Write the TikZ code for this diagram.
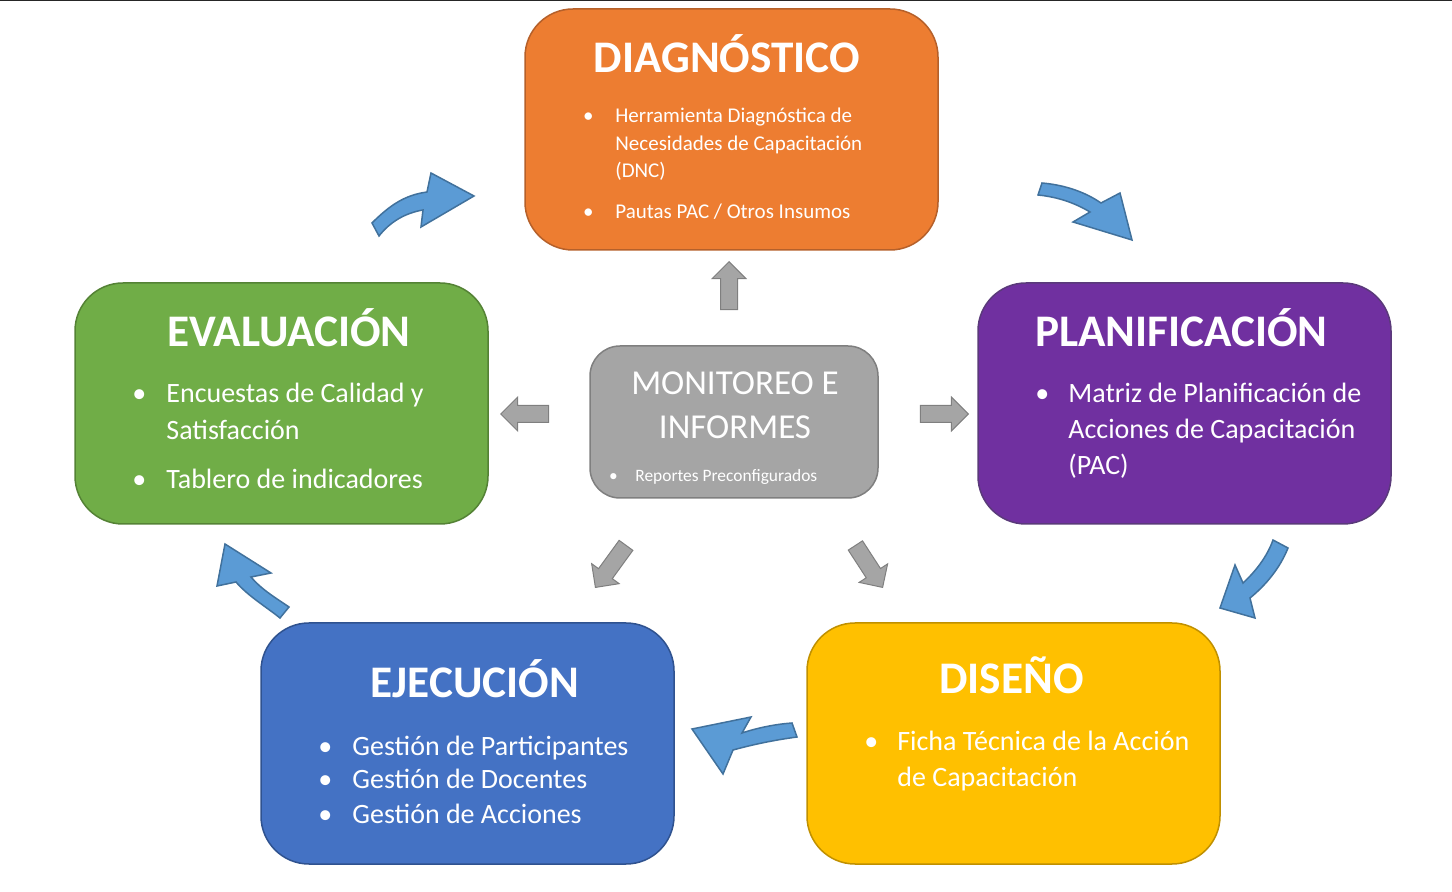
\documentclass[tikz,border=0pt]{standalone}
\usepackage{fontspec}
\setmainfont{Carlito}
\usepackage{tikz}
\usepackage{xcolor}
\usetikzlibrary{shapes.arrows}
\definecolor{diagorange}{HTML}{ED7D31}
\definecolor{diagline}{HTML}{B5602A}
\definecolor{planpurple}{HTML}{7030A0}
\definecolor{planline}{HTML}{5A3A7A}
\definecolor{evalgreen}{HTML}{70AD47}
\definecolor{evalline}{HTML}{548235}
\definecolor{ejecblue}{HTML}{4472C4}
\definecolor{ejecline}{HTML}{2F528F}
\definecolor{disyellow}{HTML}{FFC000}
\definecolor{disline}{HTML}{C09000}
\definecolor{monigray}{HTML}{A5A5A5}
\definecolor{grayline}{HTML}{7F7F7F}
\definecolor{arrowblue}{HTML}{5B9BD5}
\definecolor{blueline}{HTML}{41719C}
\newcommand{\bul}[1][27pt]{\makebox[#1]{\textbullet}\ignorespaces}
\newcommand{\nobul}[1][27pt]{\hspace*{#1}\ignorespaces}
\tikzstyle{phase} = [rectangle, rounded corners=24pt, minimum width=206.5pt, minimum height=120.5pt, line width=0.75pt, inner sep=0pt]
\tikzstyle{phasetitle} = [anchor=base, inner sep=0pt, text=white, font=\fontsize{22.6pt}{26pt}\selectfont\bfseries]
\tikzstyle{itemlist} = [anchor=base west, inner sep=0pt, text=white]
\tikzstyle{grayarrow} = [single arrow, draw=grayline, fill=monigray, line width=0.5pt, single arrow head extend=4.25pt, inner sep=4pt, minimum height=24pt, anchor=tip]
\tikzstyle{bluearrow} = [draw=blueline, fill=arrowblue, line width=0.75pt, line join=miter]
\begin{document}
\begin{tikzpicture}[x=0.5pt, y=-0.5pt]
        \useasboundingbox (0,0) rectangle (1452,892);
        \draw [line width=1pt, draw=black!85] (0,0.5) -- (1452,0.5);

        \node (diag) [phase, fill=diagorange, draw=diagline] at (731.5,129.5) {};
        \node (plan) [phase, fill=planpurple, draw=planline] at (1184.5,403.5) {};
        \node (eval) [phase, fill=evalgreen, draw=evalline] at (281.5,403.5) {};
        \node (ejec) [phase, fill=ejecblue, draw=ejecline] at (467.5,743.5) {};
        \node (dise) [phase, fill=disyellow, draw=disline] at (1013.5,743.5) {};
        \node (moni) [phase, fill=monigray, draw=grayline, rounded corners=15pt,
        minimum width=144pt, minimum height=76pt] at (734,422) {};

        \node (diag_title) [phasetitle] at (727,73) {DIAGNÓSTICO};
        \node (plan_title) [phasetitle] at (1181.5,347) {PLANIFICACIÓN};
        \node (eval_title) [phasetitle] at (289,347) {EVALUACIÓN};
        \node (ejec_title) [phasetitle] at (475,698) {EJECUCIÓN};
        \node (dise_title) [phasetitle] at (1011.5,694) {DISEÑO};
        \node (moni_title) [anchor=base, inner sep=0pt, text=white,
        font=\fontsize{17.5pt}{22pt}\selectfont] at (735,395)
        {\begin{tabular}[t]{@{}c@{}}MONITOREO E\\INFORMES\end{tabular}};

        \node (diag_items) [itemlist, font=\fontsize{10.5pt}{13.75pt}\selectfont] at (561,123)
        {\begin{tabular}[t]{@{}l@{}}\bul Herramienta Diagnóstica de\\
        \nobul Necesidades de Capacitación\\ \nobul (DNC)\\[6.75pt]
        \bul Pautas PAC / Otros Insumos\end{tabular}};
        \node (plan_items) [itemlist, font=\fontsize{14pt}{18pt}\selectfont] at (1016,403)
        {\begin{tabular}[t]{@{}l@{}}\bul[26pt] Matriz de Planificación de\\
        \nobul[26pt] Acciones de Capacitación\\ \nobul[26pt] (PAC)\end{tabular}};
        \node (eval_items) [itemlist, font=\fontsize{14pt}{18.5pt}\selectfont] at (112,403)
        {\begin{tabular}[t]{@{}l@{}}\bul Encuestas de Calidad y\\
        \nobul Satisfacción\\[6pt] \bul Tablero de indicadores\end{tabular}};
        \node (ejec_items) [itemlist, font=\fontsize{14pt}{17pt}\selectfont] at (298,755)
        {\begin{tabular}[t]{@{}l@{}}\bul Gestión de Participantes\\
        \bul Gestión de Docentes\\ \bul Gestión de Acciones\end{tabular}};
        \node (dise_items) [itemlist, font=\fontsize{14pt}{18pt}\selectfont] at (845,751)
        {\begin{tabular}[t]{@{}l@{}}\bul[26pt] Ficha Técnica de la Acción\\
        \nobul[26pt] de Capacitación\end{tabular}};
        \node (moni_items) [itemlist, font=\fontsize{8.7pt}{10pt}\selectfont] at (591,481.5)
        {\bul[22pt] Reportes Preconfigurados};

        \node (up_arrow) [grayarrow, rotate=90] at (729,261) {};
        \node (left_arrow) [grayarrow, rotate=180] at (500,414) {};
        \node (right_arrow) [grayarrow] at (969,414) {};
        \node (dl_arrow) [grayarrow, rotate=234, minimum height=26pt] at (595,588) {};
        \node (dr_arrow) [grayarrow, rotate=303, minimum height=25pt] at (883,588) {};

        \draw [bluearrow] (372,223) .. controls (390,205) and (405,195) .. (427,192) -- (431,173)
        -- (474,196) -- (421,227) -- (423,210) .. controls (405,213) and (390,222) .. (379,236) -- cycle;
        \draw [bluearrow] (1042,183) .. controls (1065,185) and (1085,192) .. (1101,203) -- (1120,193)
        -- (1132,240) -- (1073,222) -- (1090,212) .. controls (1075,203) and (1058,197) .. (1038,195) -- cycle;
        \draw [bluearrow] (1288,548) .. controls (1280,568) and (1266,585) .. (1250,598) -- (1255,618)
        -- (1220,608) -- (1235,565) -- (1243,583) .. controls (1255,572) and (1267,557) .. (1273,540) -- cycle;
        \draw [bluearrow] (797,737) .. controls (775,740) and (755,744) .. (733,750) -- (723,774)
        -- (692,729) -- (751,717) -- (742,733) .. controls (760,727) and (778,724) .. (792,723) -- cycle;
        \draw [bluearrow] (280,618) .. controls (265,606) and (248,596) .. (236,582) -- (217,586)
        -- (225,544) -- (271,573) -- (251,577) .. controls (262,590) and (276,598) .. (289,607) -- cycle;
\end{tikzpicture}
\end{document}
